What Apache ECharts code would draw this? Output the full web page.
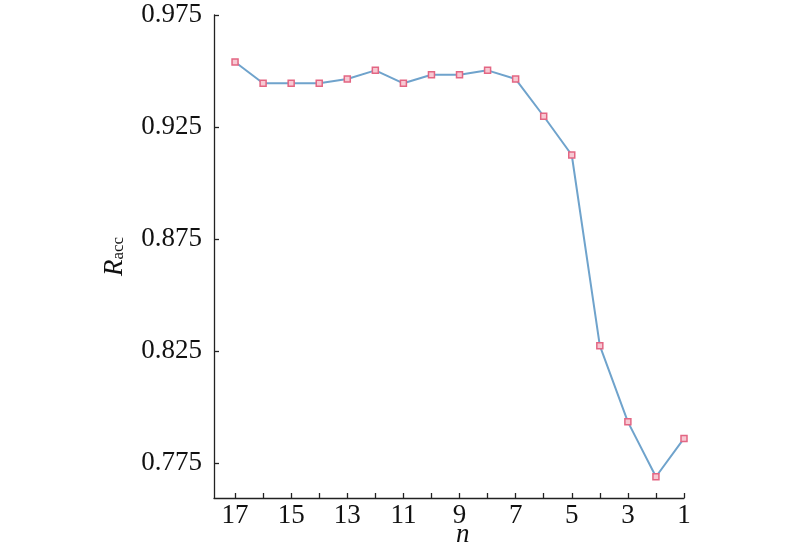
<!DOCTYPE html>
<html>
<head>
<meta charset="utf-8">
<script src="https://cdn.jsdelivr.net/npm/echarts@6/dist/echarts.min.js"></script>
<style>html,body{margin:0;padding:0;background:#fff;}#c{width:800px;height:550px;}</style>
</head>
<body>
<div id="c"></div>
<script>
var nValues = [17, 16, 15, 14, 13, 12, 11, 10, 9, 8, 7, 6, 5, 4, 3, 2, 1];
var raccValues = [0.954, 0.9445, 0.9445, 0.9445, 0.9464, 0.9503, 0.9445, 0.9483, 0.9483, 0.9503, 0.9464, 0.9298, 0.9125, 0.8274, 0.7934, 0.7689, 0.786];
var yTickValues = [0.775, 0.825, 0.875, 0.925, 0.975];
var xTickValues = [1, 2, 3, 4, 5, 6, 7, 8, 9, 10, 11, 12, 13, 14, 15, 16, 17];
var xLabelValues = [1, 3, 5, 7, 9, 11, 13, 15, 17];
var xAxisTitle = 'n';

var data = nValues.map(function (n, i) { return [n, raccValues[i]]; });
var font = '"Liberation Serif", "Times New Roman", serif';
var chart = echarts.init(document.getElementById('c'));
chart.setOption({
  animation: false,
  backgroundColor: '#fff',
  grid: { left: 214, right: 116, top: 15, bottom: 52, containLabel: false, outerBoundsMode: 'none' },
  graphic: [{
    type: 'text', left: 456, top: 521,
    style: { text: xAxisTitle, fontFamily: font, fontStyle: 'italic', fontSize: 27, fill: '#111' }
  }],
  xAxis: {
    type: 'value', inverse: true, min: 1, max: 17.75,
    axisLine: { lineStyle: { color: '#222', width: 1.3 } },
    axisTick: { inside: true, length: 5, customValues: xTickValues, lineStyle: { color: '#222', width: 1.3 } },
    axisLabel: { customValues: xLabelValues, color: '#111', fontFamily: font, fontSize: 27, margin: 4 },
    splitLine: { show: false }
  },
  yAxis: {
    type: 'value', min: 0.7594, max: 0.975,
    axisLine: { show: true, lineStyle: { color: '#222', width: 1.3 } },
    axisTick: { show: true, inside: true, length: 5, customValues: yTickValues, lineStyle: { color: '#222', width: 1.3 } },
    axisLabel: { customValues: yTickValues, color: '#111', fontFamily: font, fontSize: 27, margin: 12,
      formatter: function (v) { return v.toFixed(3); } },
    splitLine: { show: false },
    name: '{r|R}{s|acc}', nameLocation: 'middle', nameGap: 86, nameRotate: 90,
    nameTextStyle: {
      rich: {
        r: { fontFamily: font, fontStyle: 'italic', fontSize: 27, color: '#111' },
        s: { fontFamily: font, fontSize: 17, color: '#111', padding: [9, 0, 0, 0] }
      }
    }
  },
  series: [{
    type: 'line', data: data,
    lineStyle: { color: '#6fa3cc', width: 2 },
    symbol: 'rect', symbolSize: 6,
    itemStyle: { color: '#f7c9d3', borderColor: '#e36683', borderWidth: 1.5 }
  }]
});
</script>
</body>
</html>
